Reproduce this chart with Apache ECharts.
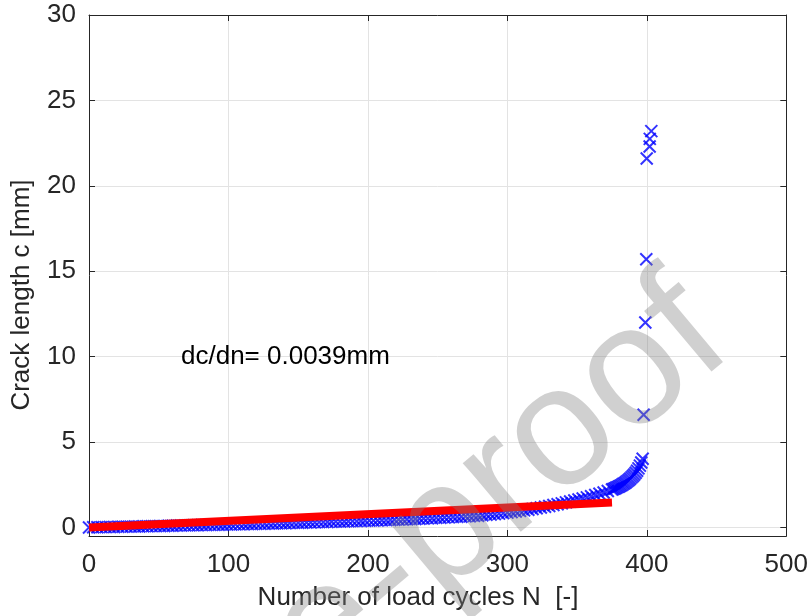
<!DOCTYPE html>
<html>
<head>
<meta charset="utf-8">
<script src="https://cdn.jsdelivr.net/npm/echarts@6/dist/echarts.min.js"></script>
<style>
  html, body { margin: 0; padding: 0; background: #ffffff; }
  #chart { width: 811px; height: 616px; }
</style>
</head>
<body>
<div id="chart"></div>
<script>
// Crack growth measurements: load cycles N and crack length c [mm]
const cyclesN = [
  0, 3, 6, 9, 12, 15, 18, 21, 24, 27, 30, 33, 36, 39, 42, 45, 48, 51, 54, 57,
  60, 63, 66, 69, 72, 75, 78, 81, 84, 87, 90, 93, 96, 99,
  102, 105, 108, 111, 114, 117, 120, 123, 126, 129, 132, 135, 138, 141, 144, 147,
  150, 153, 156, 159, 162, 165, 168, 171, 174, 177, 180, 183, 186, 189, 192, 195, 198,
  201, 204, 207, 210, 213, 216, 219, 222, 225, 228, 231, 234, 237, 240, 243, 246, 249,
  252, 255, 258, 261, 264, 267, 270, 273, 276, 279, 282, 285, 288, 291, 294, 297, 300,
  303, 306, 309, 312, 315, 318, 321, 324, 327, 330, 333, 336, 339, 342, 345, 348,
  351, 354, 357, 360, 363, 366, 369, 372, 375,
  376, 377, 378, 379, 380, 381, 382, 383, 384, 385, 386, 387, 388, 389, 390, 391, 392, 393, 394, 395, 396, 397,
  397.7, 398.9, 399.6, 399.9, 402.0, 402.1, 403.2
];
const crackC = [
  0.00, 0.01, 0.01, 0.02, 0.02, 0.03, 0.03, 0.04, 0.04, 0.05, 0.05, 0.06, 0.06, 0.07, 0.07, 0.08, 0.08, 0.09, 0.09, 0.10,
  0.10, 0.11, 0.11, 0.12, 0.12, 0.13, 0.13, 0.14, 0.14, 0.15, 0.15, 0.16, 0.16, 0.17,
  0.17, 0.18, 0.18, 0.19, 0.20, 0.20, 0.21, 0.21, 0.22, 0.23, 0.23, 0.24, 0.25, 0.25, 0.26, 0.27,
  0.27, 0.28, 0.29, 0.29, 0.30, 0.31, 0.31, 0.32, 0.33, 0.34, 0.34, 0.35, 0.36, 0.37, 0.37, 0.38, 0.39,
  0.40, 0.40, 0.41, 0.42, 0.43, 0.44, 0.45, 0.46, 0.47, 0.48, 0.49, 0.50, 0.51, 0.52, 0.53, 0.54, 0.56,
  0.57, 0.58, 0.59, 0.61, 0.62, 0.63, 0.65, 0.66, 0.68, 0.69, 0.71, 0.74, 0.76, 0.78, 0.81, 0.84, 0.87,
  0.90, 0.93, 0.97, 1.00, 1.04, 1.08, 1.12, 1.17, 1.21, 1.26, 1.31, 1.36, 1.41, 1.47, 1.52, 1.58,
  1.64, 1.70, 1.76, 1.83, 1.90, 1.97, 2.05, 2.13, 2.22,
  2.25, 2.28, 2.32, 2.36, 2.40, 2.44, 2.49, 2.54, 2.59, 2.65, 2.71, 2.78, 2.85, 2.93, 3.01, 3.10, 3.20, 3.32, 3.46, 3.62, 3.80, 4.02,
  6.6, 12.0, 15.7, 21.6, 22.3, 22.75, 23.2
];

// Linear fit of the growth phase
const fitN = [0, 375];
const fitC = [0.0, 1.46];

// Axis ticks
const xTicks = [0, 100, 200, 300, 400, 500];
const yTicks = [0, 5, 10, 15, 20, 25, 30];

const slopeText = 'dc/dn= 0.0039mm';
const xName = 'Number of load cycles N  [-]';
const yName = 'Crack length c [mm]';
const stampText = 'Journal Pre-proof';

const FONT = 'Liberation Sans, Arial, Helvetica, sans-serif';
const INK = '#262626';

const chart = echarts.init(document.getElementById('chart'), null, { renderer: 'canvas' });

const measured = cyclesN.map((n, i) => [n, crackC[i]]);
const fitted = fitN.map((n, i) => [n, fitC[i]]);

const crossPath = 'path://M0,0L10,10M10,0L0,10';

const option = {
  backgroundColor: '#ffffff',
  animation: false,
  grid: { left: 89, right: 18, top: 15, bottom: 80, containLabel: false },
  xAxis: [
    {
      type: 'value', min: 0, max: 500, interval: 100,
      axisLine: { show: true, onZero: false, lineStyle: { color: INK, width: 1 } },
      axisTick: { show: true, inside: true, length: 6, lineStyle: { color: INK } },
      axisLabel: { color: INK, fontFamily: FONT, fontSize: 26, margin: 16, customValues: xTicks },
      splitLine: { show: true, lineStyle: { color: '#e3e3e3', width: 1 } }
    },
    {
      type: 'value', position: 'top', min: 0, max: 500, interval: 100,
      axisLine: { show: true, onZero: false, lineStyle: { color: INK, width: 1 } },
      axisTick: { show: true, inside: true, length: 6, lineStyle: { color: INK } },
      axisLabel: { show: false },
      splitLine: { show: false }
    }
  ],
  yAxis: [
    {
      type: 'value', min: -0.5, max: 30,
      axisLine: { show: true, onZero: false, lineStyle: { color: INK, width: 1 } },
      axisTick: { show: true, inside: true, length: 6, lineStyle: { color: INK }, customValues: yTicks },
      axisLabel: { color: INK, fontFamily: FONT, fontSize: 26, margin: 13, customValues: yTicks },
      splitLine: { show: true, lineStyle: { color: '#e3e3e3', width: 1 } }
    },
    {
      type: 'value', position: 'right', min: -0.5, max: 30,
      axisLine: { show: true, onZero: false, lineStyle: { color: INK, width: 1 } },
      axisTick: { show: true, inside: true, length: 6, lineStyle: { color: INK }, customValues: yTicks },
      axisLabel: { show: false },
      splitLine: { show: false }
    }
  ],
  series: [
    {
      name: 'measured',
      type: 'scatter',
      data: measured,
      symbol: crossPath,
      symbolSize: 12,
      itemStyle: { color: 'rgba(0,0,0,0)', borderColor: '#0000ff', borderWidth: 2 },
      z: 2
    },
    {
      name: 'fit',
      type: 'line',
      data: fitted,
      showSymbol: false,
      symbol: 'none',
      lineStyle: { color: '#ff0000', width: 8, cap: 'butt' },
      z: 3
    }
  ],
  graphic: [
    {
      type: 'text', left: 181, top: 344, z: 10,
      style: { text: slopeText, fill: '#000000', font: '26px ' + FONT }
    },
    {
      type: 'text', x: 418, y: 598, z: 10,
      style: { text: xName, fill: INK, font: '26px ' + FONT, align: 'center', verticalAlign: 'middle' }
    },
    {
      type: 'text', x: 22, y: 295, rotation: Math.PI / 2, z: 10,
      style: { text: yName, fill: INK, font: '26px ' + FONT, align: 'center', verticalAlign: 'middle' }
    },
    {
      type: 'text', x: 706, y: 315, rotation: 40 * Math.PI / 180, zlevel: 1,
      style: { text: stampText, fill: 'rgba(128,128,128,0.37)', font: '170px ' + FONT,
               align: 'right', verticalAlign: 'middle' }
    }
  ]
};

chart.setOption(option);
</script>
</body>
</html>
